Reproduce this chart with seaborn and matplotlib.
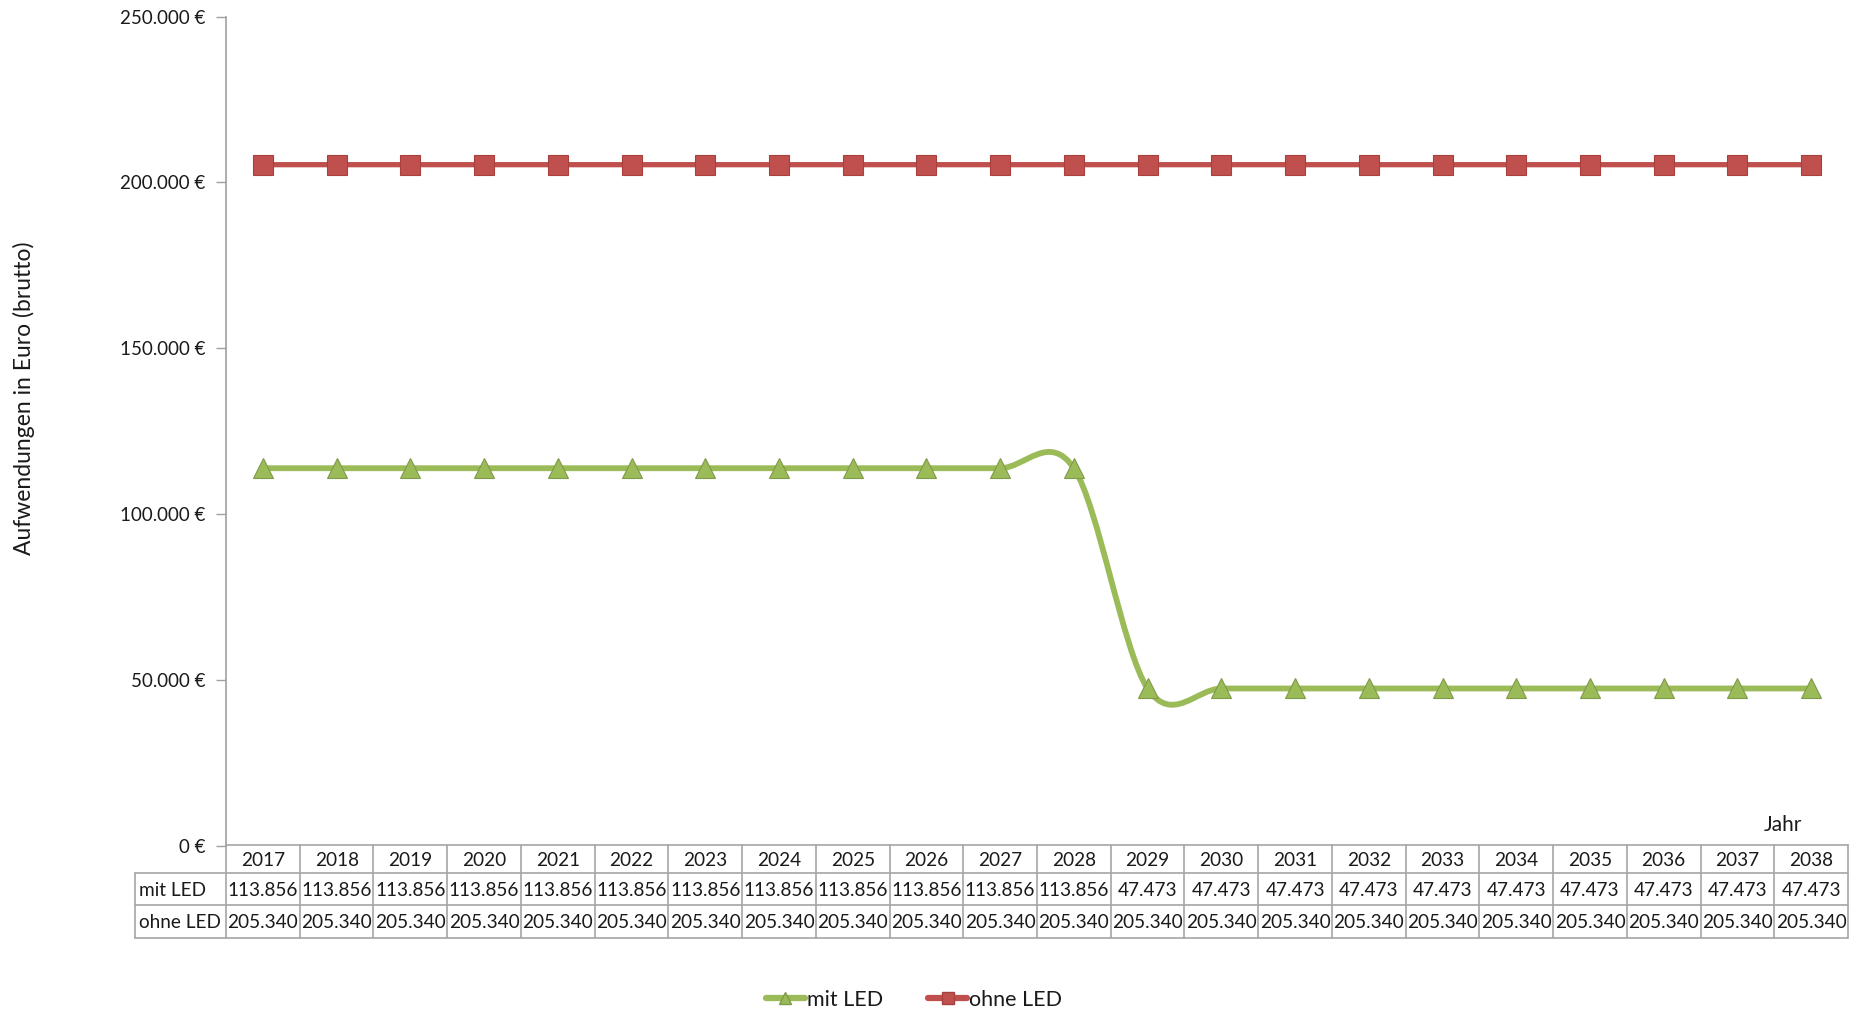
import numpy as np
import pandas as pd
import matplotlib
matplotlib.use("Agg")
import matplotlib.pyplot as plt
import seaborn as sns
from matplotlib.path import Path
from matplotlib.patches import PathPatch
from matplotlib.lines import Line2D

# ---- data ----
years = [str(y) for y in range(2017, 2039)]
mit_led = [113856] * 12 + [47473] * 10
ohne_led = [205340] * 22
series_names = ["mit LED", "ohne LED"]
y_ticks = [0, 50000, 100000, 150000, 200000, 250000]

GREEN = "#9BBB59"
RED = "#C0504D"
FONT = ["Lato", "DejaVu Sans"]

sns.set_theme(style="white")
plt.rcParams["font.family"] = FONT
plt.rcParams["text.color"] = "#1a1a1a"

W, H = 1854, 1013
fig = plt.figure(figsize=(W / 100, H / 100), dpi=100)

ax_l, ax_r, ax_t, ax_b = 226, 1848, 16.5, 846
ax = fig.add_axes([ax_l / W, 1 - ax_b / H, (ax_r - ax_l) / W, (ax_b - ax_t) / H])

pos = np.arange(len(years))
df = pd.DataFrame({
    "pos": np.concatenate([pos, pos]),
    "value": mit_led + ohne_led,
    "series": [series_names[0]] * len(years) + [series_names[1]] * len(years),
})


def smooth_path(xs, ys):
    pts = np.column_stack([xs, ys]).astype(float)
    n = len(pts)
    verts = [pts[0]]
    codes = [Path.MOVETO]
    for i in range(n - 1):
        p_prev = pts[max(i - 1, 0)]
        p0 = pts[i]
        p1 = pts[i + 1]
        p_next = pts[min(i + 2, n - 1)]
        c1 = p0 + (p1 - p_prev) / 6.0
        c2 = p1 - (p_next - p0) / 6.0
        verts += [c1, c2, p1]
        codes += [Path.CURVE4] * 3
    return Path(verts, codes)


for name, vals, col, lw in [("ohne LED", ohne_led, RED, 3.8), ("mit LED", mit_led, GREEN, 4.2)]:
    ax.add_patch(PathPatch(smooth_path(pos, vals), fill=False, edgecolor=col,
                           linewidth=lw, capstyle="round", joinstyle="round", zorder=2))

sns.lineplot(data=df, x="pos", y="value", hue="series", style="series",
             palette={"mit LED": GREEN, "ohne LED": RED},
             markers={"mit LED": "^", "ohne LED": "s"}, dashes=False,
             linewidth=0, markersize=14, markeredgewidth=0.8,
             legend=False, ax=ax, zorder=3)
for ln in ax.lines:
    c = ln.get_color()
    ln.set_markeredgecolor("#7f9a48" if c.lower() == GREEN.lower() else "#a8413e")

ax.set_xlim(-0.5, len(years) - 0.5)
ax.set_ylim(0, 250000)
ax.set_yticks(y_ticks)
ax.set_yticklabels([f"{v:,.0f} €".replace(",", ".") for v in y_ticks], fontsize=13.5)
ax.set_xticks([])
ax.set_xlabel("")
ax.set_ylabel("")
for s in ["top", "right", "bottom"]:
    ax.spines[s].set_visible(False)
ax.spines["left"].set_color("#a0a0a0")
ax.spines["left"].set_linewidth(1.2)
ax.tick_params(axis="y", which="both", left=True, length=7, width=1, color="#a0a0a0",
               pad=8, labelcolor="#1a1a1a")
ax.patch.set_alpha(0)

fig.text(24 / W, 1 - 398 / H, "Aufwendungen in Euro (brutto)", rotation=90,
         ha="center", va="center", fontsize=16.5)

# ---- data table ----
col_w = (ax_r - ax_l) / len(years)
lab_l = 135
row_edges = [845, 873, 905, 938]
tx = fig.add_axes([lab_l / W, 1 - row_edges[-1] / H, (ax_r - lab_l) / W,
                   (row_edges[-1] - row_edges[0]) / H])
x0 = -0.5 - (ax_l - lab_l) / col_w
tx.set_xlim(x0, len(years) - 0.5)
tx.set_ylim(row_edges[-1], row_edges[0])
tx.axis("off")
gc = "#a6a6a6"
tx.plot([-0.5, len(years) - 0.5], [row_edges[0]] * 2, color=gc, lw=1.2, clip_on=False)
for y in row_edges[1:]:
    tx.plot([x0, len(years) - 0.5], [y, y], color=gc, lw=1.2, clip_on=False)
for i in range(len(years) + 1):
    tx.plot([i - 0.5] * 2, [row_edges[0], row_edges[-1]], color=gc, lw=1.2, clip_on=False)
tx.plot([x0] * 2, [row_edges[1], row_edges[-1]], color=gc, lw=1.2, clip_on=False)


def fmt(v):
    return f"{v:,.0f}".replace(",", ".")


fs_t = 13.7
for i, yr in enumerate(years):
    tx.text(i, (row_edges[0] + row_edges[1]) / 2 + 1, yr, ha="center", va="center", fontsize=fs_t)
    tx.text(i, (row_edges[1] + row_edges[2]) / 2 + 1, fmt(mit_led[i]), ha="center", va="center", fontsize=fs_t)
    tx.text(i, (row_edges[2] + row_edges[3]) / 2 + 1, fmt(ohne_led[i]), ha="center", va="center", fontsize=fs_t)
tx.text(x0 + 0.05, (row_edges[1] + row_edges[2]) / 2 + 1, series_names[0], ha="left", va="center", fontsize=fs_t)
tx.text(x0 + 0.05, (row_edges[2] + row_edges[3]) / 2 + 1, series_names[1], ha="left", va="center", fontsize=fs_t)

fig.text(1783 / W, 1 - 825 / H, "Jahr", ha="center", va="center", fontsize=15)

handles = [
    Line2D([], [], color=GREEN, lw=4.5, marker="^", markersize=9, markeredgecolor="#7f9a48"),
    Line2D([], [], color=RED, lw=4.5, marker="s", markersize=9, markeredgecolor="#a8413e"),
]
fig.legend(handles, series_names, loc="center", bbox_to_anchor=(914 / W, 1 - 1000 / H),
           ncol=2, frameon=False, fontsize=15.5, handlelength=1.8, handletextpad=0.1,
           columnspacing=2.1)

fig.savefig("out.png", dpi=100, facecolor="white")
